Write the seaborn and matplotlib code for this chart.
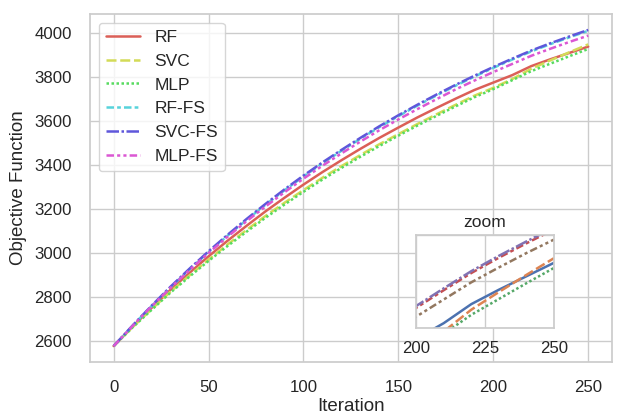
import pandas as pd
import numpy as np
import matplotlib
matplotlib.use("Agg")
import matplotlib.pyplot as plt
import seaborn as sns

# iterations (read every 10 steps)
iterations = list(range(0, 251, 10))

rf = [2575, 2664, 2749, 2832, 2909, 2984, 3055, 3123, 3189, 3251, 3311, 3368, 3422,
      3474, 3524, 3571, 3617, 3660, 3702, 3742, 3776, 3810, 3851, 3882, 3911, 3940]
svc = [2575, 2661, 2743, 2823, 2897, 2969, 3038, 3104, 3168, 3228, 3286, 3342, 3395,
       3446, 3495, 3541, 3587, 3631, 3674, 3716, 3752, 3792, 3839, 3877, 3914, 3950]
mlp = [2575, 2660, 2740, 2819, 2892, 2963, 3031, 3096, 3160, 3220, 3278, 3334, 3387,
       3438, 3487, 3534, 3580, 3624, 3667, 3709, 3746, 3787, 3828, 3862, 3896, 3929]
rf_fs = [2575, 2668, 2757, 2843, 2925, 3003, 3078, 3150, 3219, 3285, 3348, 3408, 3465,
         3520, 3573, 3623, 3671, 3717, 3761, 3803, 3843, 3881, 3918, 3951, 3982, 4012]
svc_fs = [2575, 2669, 2759, 2846, 2928, 3007, 3082, 3154, 3223, 3289, 3352, 3412, 3469,
          3524, 3577, 3627, 3675, 3721, 3765, 3807, 3847, 3885, 3922, 3955, 3986, 4016]
mlp_fs = [2575, 2667, 2756, 2841, 2922, 2999, 3073, 3144, 3211, 3276, 3338, 3397, 3453,
          3507, 3559, 3608, 3655, 3700, 3744, 3785, 3824, 3861, 3898, 3930, 3961, 3990]

methods = ["RF", "SVC", "MLP", "RF-FS", "SVC-FS", "MLP-FS"]
series = [rf, svc, mlp, rf_fs, svc_fs, mlp_fs]

df = pd.concat([pd.DataFrame({"Iteration": iterations, "Objective Function": s, "method": m})
                for m, s in zip(methods, series)], ignore_index=True)

sns.set_theme(style="whitegrid", context="notebook", font_scale=1.1)
plt.rcParams["font.family"] = ["Liberation Sans", "DejaVu Sans"]

fig, ax = plt.subplots(figsize=(6.2, 4.15), dpi=100)
fig.subplots_adjust(left=0.145, right=0.987, top=0.966, bottom=0.128)

sns.lineplot(data=df, x="Iteration", y="Objective Function", hue="method", style="method",
             palette="hls", linewidth=1.8, ax=ax)
handles, labels = ax.get_legend_handles_labels()
ax.legend(handles, labels, loc="upper left", fontsize=12.5)
ax.set_xticks([0, 50, 100, 150, 200, 250])
ax.tick_params(pad=7)
ax.set_xlabel("Iteration", fontsize=13.5, labelpad=2)
ax.set_ylabel("Objective Function", fontsize=13.5, labelpad=5)

# zoomed inset
axins = ax.inset_axes([0.625, 0.098, 0.264, 0.267])
sns.lineplot(data=df, x="Iteration", y="Objective Function", hue="method", style="method",
             linewidth=1.8, ax=axins, legend=False)
axins.set_xlim(200, 250)
axins.set_ylim(3800, 4000)
axins.set_xticks([200, 225, 250])
axins.set_yticks([3800, 3900, 4000])
axins.set_yticklabels([])
axins.set_xlabel("")
axins.set_ylabel("")
axins.set_title("zoom", fontsize=12.5)
axins.tick_params(axis="y", length=0)

fig.savefig("out.png", dpi=100)
